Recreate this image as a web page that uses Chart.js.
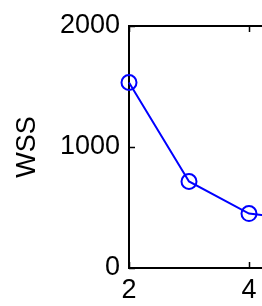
<!DOCTYPE html>
<html>
<head>
<meta charset="utf-8">
<script src="https://cdn.jsdelivr.net/npm/chart.js@4"></script>
<style>
  html, body { margin: 0; padding: 0; background: #fff; overflow: hidden; }
  #wrap { width: 262px; height: 306px; overflow: hidden; position: relative; }
</style>
</head>
<body>
<div id="wrap">
  <canvas id="chart" width="400" height="306"></canvas>
</div>
<script>
// numero de clusters y WSS
const clusters = [2, 3, 4, 5];
const wss = [1533, 715, 450, 390];
const yTicks = [0, 1000, 2000];
const xTicks = [2, 4, 6];

const FONT = "Liberation Sans, Arial, sans-serif";

// caja y ticks hacia adentro, estilo MATLAB
const boxPlugin = {
    id: "box",
    afterDraw(chart) {
        const { ctx, chartArea } = chart;
        const x = chart.scales.x;
        const y = chart.scales.y;
        ctx.save();
        ctx.strokeStyle = "#000";
        ctx.lineWidth = 2;
        ctx.beginPath();
        ctx.moveTo(chartArea.left - 1, chartArea.top);
        ctx.lineTo(chartArea.right, chartArea.top);
        ctx.stroke();
        ctx.lineWidth = 1.5;
        ctx.beginPath();
        xTicks.forEach(v => {
            const px = Math.round(x.getPixelForValue(v)) + 0.5;
            ctx.moveTo(px, chartArea.bottom);
            ctx.lineTo(px, chartArea.bottom - 6);
            ctx.moveTo(px, chartArea.top);
            ctx.lineTo(px, chartArea.top + 6);
        });
        yTicks.forEach(v => {
            const py = Math.round(y.getPixelForValue(v)) + 0.5;
            ctx.moveTo(chartArea.left, py);
            ctx.lineTo(chartArea.left + 6, py);
        });
        ctx.stroke();
        ctx.restore();
    }
};

new Chart(document.getElementById("chart"), {
    type: "line",
    data: {
        datasets: [{
            data: clusters.map((k, i) => ({ x: k, y: wss[i] })),
            borderColor: "#0000ff",
            borderWidth: 2,
            pointRadius: 7.5,
            pointBorderWidth: 2,
            pointBorderColor: "#0000ff",
            pointBackgroundColor: "rgba(0,0,0,0)",
            tension: 0,
            clip: false,
        }],
    },
    options: {
        responsive: false,
        animation: false,
        devicePixelRatio: 1,
        layout: { padding: { top: 26, left: 0, right: 31, bottom: 0 } },
        plugins: { legend: { display: false }, tooltip: { enabled: false } },
        scales: {
            x: {
                type: "linear",
                min: 2,
                max: 6,
                afterFit(scale) { scale.height = 38; },
                afterBuildTicks(scale) { scale.ticks = xTicks.map(v => ({ value: v })); },
                grid: { display: false, drawTicks: false },
                border: { display: true, color: "#000", width: 2 },
                ticks: {
                    color: "#000", padding: 6,
                    font: { family: FONT, size: 27 },
                    callback: v => String(v),
                },
            },
            y: {
                min: 0,
                max: 2000,
                afterFit(scale) { scale.width = 129; },
                afterBuildTicks(scale) { scale.ticks = yTicks.map(v => ({ value: v })); },
                grid: { display: false, drawTicks: false },
                border: { display: true, color: "#000", width: 2 },
                ticks: {
                    color: "#000", padding: 9,
                    font: { family: FONT, size: 27 },
                    callback: v => String(v),
                },
                title: {
                    display: true,
                    text: "WSS",
                    color: "#000",
                    padding: { top: 11, bottom: 0 },
                    font: { family: FONT, size: 27 },
                },
            },
        },
    },
    plugins: [boxPlugin],
});
</script>
</body>
</html>
